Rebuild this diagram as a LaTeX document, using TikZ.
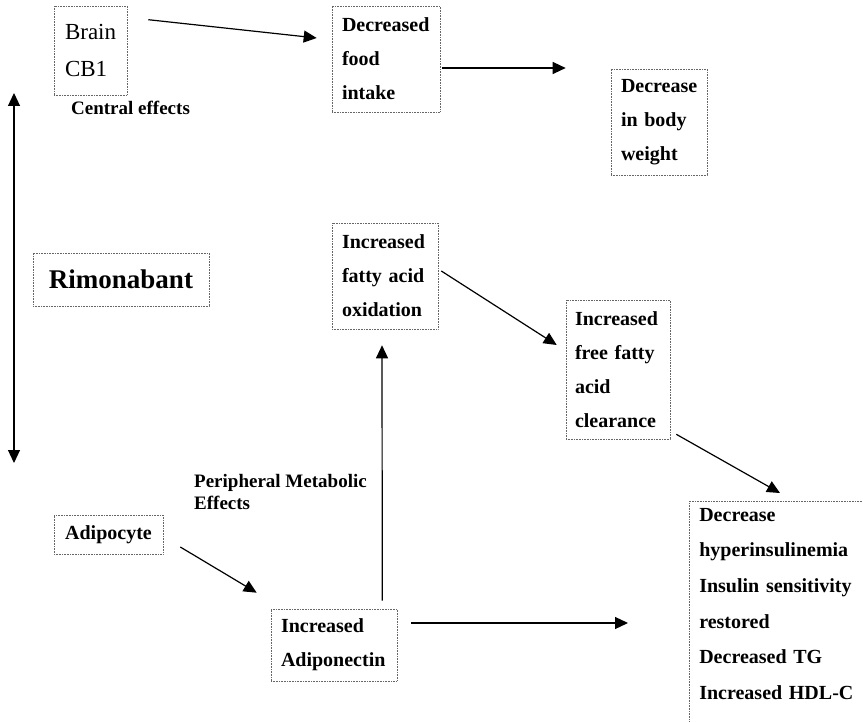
\documentclass[tikz,border=0pt]{standalone}
\usepackage{fontspec}
\setmainfont{Liberation Serif}
\usetikzlibrary{arrows.meta,positioning}

\begin{document}
\begin{tikzpicture}[x=1pt, y=-1pt,
  box/.style={draw=black!60, densely dotted, line width=0.6pt, align=left, inner sep=0pt,
              font=\bfseries\fontsize{20}{34}\selectfont},
  tag/.style={font=\bfseries\fontsize{19}{22}\selectfont, align=left, inner sep=0pt},
  arr/.style={-{Triangle[length=13pt,width=12pt]}, line width=1.2pt},
  arrs/.style={{Triangle[length=13pt,width=12pt]}-{Triangle[length=13pt,width=12pt]}, line width=1.2pt}
]
  \useasboundingbox (0,0) rectangle (863,722);

  % central effects
  \node[box, font=\fontsize{23}{37}\selectfont, text width=51pt, inner xsep=11pt, minimum height=89pt] (brain) at (90.5,50.5) {Brain\\CB1};
  \node[tag, anchor=west] (central) at (71,108) {Central effects};
  \node[box, text width=88pt, inner xsep=10pt, minimum height=106pt] (food) at (386,59) {Decreased\\food\\intake};
  \node[box, text width=76pt, inner xsep=10pt, minimum height=106pt] (weight) at (659,122) {Decrease\\in body\\weight};

  \node[box, align=center, font=\bfseries\fontsize{27}{30}\selectfont, minimum width=176pt, minimum height=53pt] (rimo) at (121,279.5) {Rimonabant};

  % peripheral effects
  \node[box, text width=86pt, inner xsep=10pt, minimum height=106pt] (oxid) at (385,276) {Increased\\fatty acid\\oxidation};
  \node[box, text width=86pt, inner xsep=9pt, minimum height=139pt] (clear) at (618,369.5) {Increased\\free fatty\\acid\\clearance};
  \node[box, anchor=north west, font=\bfseries\fontsize{20}{35.6}\selectfont, text width=190pt, inner xsep=10pt, inner ysep=7pt] (result) at (689,501)
    {Decrease\\hyperinsulinemia\\Insulin sensitivity\\restored\\Decreased TG\\Increased HDL-C\\\mbox{}};
  \node[tag, anchor=north west] (periph) at (194,474) {Peripheral Metabolic\\Effects};
  \node[box, align=center, minimum width=109pt, minimum height=39pt] (adipo) at (108.5,534.5) {Adipocyte};
  \node[box, text width=106pt, inner xsep=10pt, minimum height=72pt] (adipon) at (334,645) {Increased\\Adiponectin};

  \coordinate (up) at (14,93);
  \coordinate (down) at (14,463);
  \coordinate (out) at (628,623);

  \draw[arrs] (up) -- (down);
  \draw[arr] ([shift={(21,14)}]brain.north east) -- ([shift={(-15,-21)}]food.west);
  \draw[arr] ([shift={(2,9)}]food.east) -- ([shift={(-45,-54)}]weight.west);
  \draw[arr] ([shift={(3,-5)}]oxid.east) -- ([shift={(-9,-24.5)}]clear.west);
  \draw[arr] ([shift={(6,-5)}]clear.south east) -- ([shift={(91,-8)}]result.north west);
  \draw[arr] ([shift={(17,12.5)}]adipo.east) -- ([shift={(-14,-16)}]adipon.north west);
  \draw[arr] ([shift={(-15,-8)}]adipon.north east) -- ([shift={(-3,16)}]oxid.south);
  \draw[arr] ([shift={(14,-22)}]adipon.east) -- (out);
\end{tikzpicture}
\end{document}
